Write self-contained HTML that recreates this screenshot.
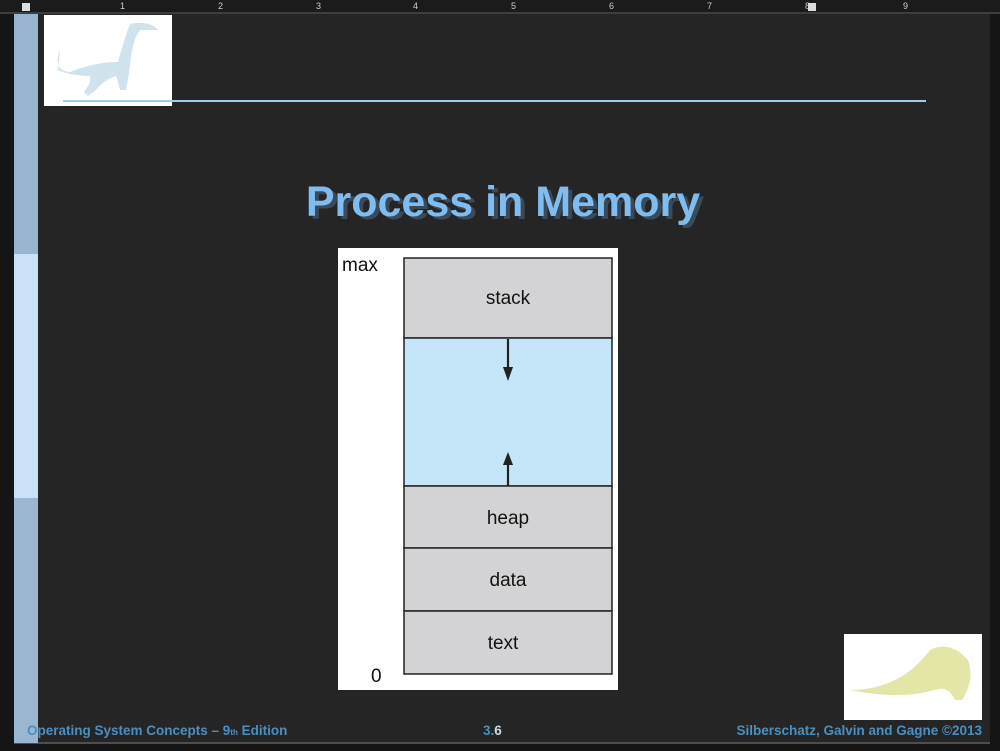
<!DOCTYPE html>
<html><head><style>
html,body{margin:0;padding:0;background:#151515;}
svg{display:block;}
</style></head><body>
<svg width="1000" height="751" viewBox="0 0 1000 751" xmlns="http://www.w3.org/2000/svg" font-family="Liberation Sans, sans-serif">
<rect width="1000" height="751" fill="#151515"/>
<rect x="0" y="0" width="1000" height="12" fill="#1b1b1b"/>
<g fill="#ccc" font-size="9">
<text x="120" y="9">1</text><text x="218" y="9">2</text><text x="316" y="9">3</text><text x="413" y="9">4</text><text x="511" y="9">5</text><text x="609" y="9">6</text><text x="707" y="9">7</text><text x="805" y="9">8</text><text x="903" y="9">9</text>
</g>
<rect x="22" y="3" width="8" height="8" fill="#ddd"/>
<rect x="808" y="3" width="8" height="8" fill="#ddd"/>
<line x1="0" y1="13" x2="1000" y2="13" stroke="#666"/>
<rect x="14" y="14" width="976" height="728" fill="#252525"/>
<line x1="14" y1="743" x2="990" y2="743" stroke="#888"/>
<rect x="14" y="14" width="24" height="240" fill="#97b4d0"/>
<rect x="14" y="254" width="24" height="244" fill="#c9e0f6"/>
<rect x="14" y="498" width="24" height="245" fill="#9bb6d1"/>
<rect x="44" y="15" width="128" height="91" fill="#fff"/>
<path d="M60 50 Q52 70 70 72 Q95 62 118 62 Q124 40 130 24 Q150 20 158 30 L140 30 Q132 40 130 66 Q128 80 126 90 L120 90 Q118 80 116 76 Q104 80 96 90 L88 96 L84 92 Q92 82 90 76 Q72 76 58 70 Z" fill="#cfe2ee"/>
<line x1="63" y1="101" x2="926" y2="101" stroke="#9fcbea" stroke-width="2"/>
<text x="505" y="217" text-anchor="middle" font-size="43" font-weight="bold" fill="#3a4a58" transform="translate(2,2)">Process in Memory</text>
<text x="503" y="216" text-anchor="middle" font-size="43" font-weight="bold" fill="#7fbcef">Process in Memory</text>
<rect x="338" y="248" width="280" height="442" fill="#fff"/>
<text x="342" y="271" font-size="19" fill="#111">max</text>
<text x="371" y="682" font-size="19" fill="#111">0</text>
<g stroke="#222" stroke-width="1.5">
<rect x="404" y="258" width="208" height="80" fill="#d3d3d5"/>
<rect x="404" y="338" width="208" height="148" fill="#c5e6f9"/>
<rect x="404" y="486" width="208" height="62" fill="#d3d3d5"/>
<rect x="404" y="548" width="208" height="63" fill="#d3d3d5"/>
<rect x="404" y="611" width="208" height="63" fill="#d3d3d5"/>
</g>
<g stroke="#222" stroke-width="2.2">
<line x1="508" y1="339" x2="508" y2="372"/>
<line x1="508" y1="486" x2="508" y2="462"/>
</g>
<polygon points="503,367 513,367 508,381" fill="#222"/>
<polygon points="503,465 513,465 508,452" fill="#222"/>
<g font-size="19" fill="#111" text-anchor="middle">
<text x="508" y="304">stack</text>
<text x="508" y="524">heap</text>
<text x="508" y="586">data</text>
<text x="503" y="649">text</text>
</g>
<rect x="844" y="634" width="138" height="86" fill="#fff"/>
<path d="M850 690 Q900 690 930 650 Q950 640 968 660 Q975 680 962 700 L955 700 Q948 685 935 690 Q900 700 850 690 Z" fill="#e4e6a8"/>
<g font-size="13.5" font-weight="bold" fill="#4a8fc0">
<text x="27" y="735">Operating System Concepts – 9<tspan font-size="8">th</tspan> Edition</text>
<text x="483" y="735">3.<tspan fill="#cfd8e0">6</tspan></text>
<text x="982" y="735" text-anchor="end">Silberschatz, Galvin and Gagne ©2013</text>
</g>
</svg>
</body></html>
